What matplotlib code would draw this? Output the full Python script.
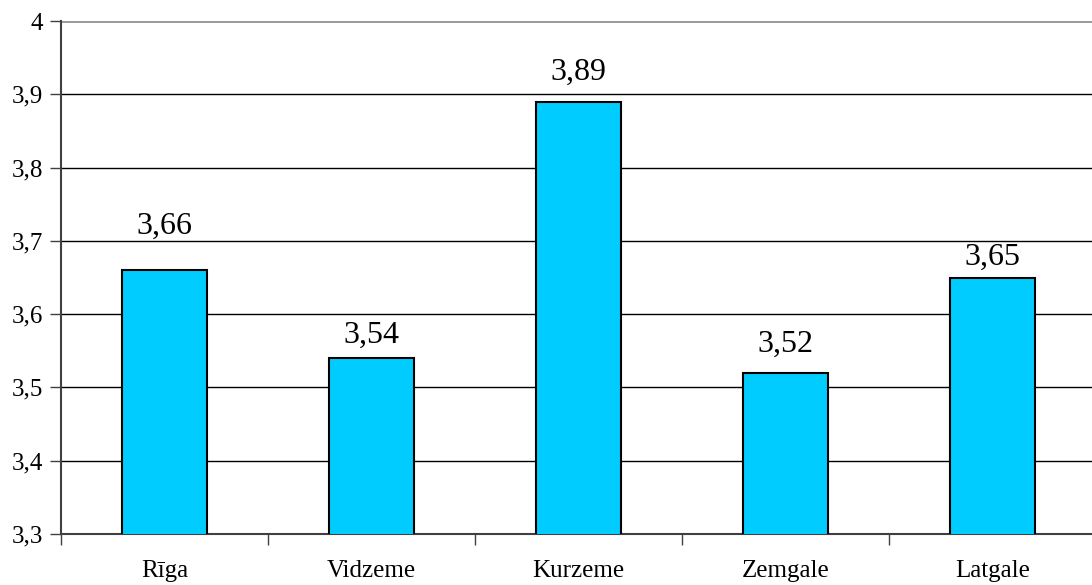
import matplotlib.pyplot as plt
import numpy as np

# Regions and mean values
regions = ['Rīga', 'Vidzeme', 'Kurzeme', 'Zemgale', 'Latgale']
values = [3.66, 3.54, 3.89, 3.52, 3.65]
yticks = [3.3, 3.4, 3.5, 3.6, 3.7, 3.8, 3.9, 4.0]

# gap between bar top and its label, in pixels
label_gap_px = [36, 15, 22, 21, 13]

plt.rcParams['font.family'] = ['Liberation Serif', 'DejaVu Serif']

fig = plt.figure(figsize=(10.92, 5.85), dpi=100)
ax = fig.add_axes([61 / 1092, 51 / 585, 1035 / 1092, 513 / 585])

x = np.arange(len(regions))
ax.bar(x, values, width=0.41, bottom=0, color='#00CCFF', edgecolor='black',
       linewidth=1.5, zorder=3)

for xi, v, gap in zip(x, values, label_gap_px):
    ax.annotate('{:.2f}'.format(v).replace('.', ','), (xi, v),
                xytext=(0, gap * 0.72), textcoords='offset points',
                ha='center', va='baseline', fontsize=23)

ax.set_ylim(3.3, 4.0)
ax.set_xlim(-0.5, len(regions) - 0.5)

ax.set_yticks(yticks)
ax.set_yticklabels(['{:g}'.format(t).replace('.', ',') for t in yticks], fontsize=18)
ax.yaxis.grid(True, color='black', linewidth=1, zorder=0)
ax.set_axisbelow(True)
ax.tick_params(axis='y', direction='out', length=8, width=1, color='#404040', pad=5)

# category labels centered, ticks at boundaries
ax.set_xticks(np.arange(len(regions) + 1) - 0.5)
ax.set_xticklabels([])
ax.set_xticks(x, minor=True)
ax.set_xticklabels(regions, minor=True, fontsize=18)
ax.tick_params(axis='x', which='major', direction='out', length=8, width=1, color='#404040')
ax.tick_params(axis='x', which='minor', length=0, pad=19)

for side in ['top', 'right']:
    ax.spines[side].set_visible(False)
ax.spines['left'].set_color('#404040')
ax.spines['bottom'].set_color('#404040')
ax.spines['left'].set_linewidth(1.5)
ax.spines['bottom'].set_linewidth(1.5)

# top gridline appears gray
ax.axhline(4.0, color='#999999', linewidth=2, zorder=1)

fig.savefig('out.png', dpi=100)
